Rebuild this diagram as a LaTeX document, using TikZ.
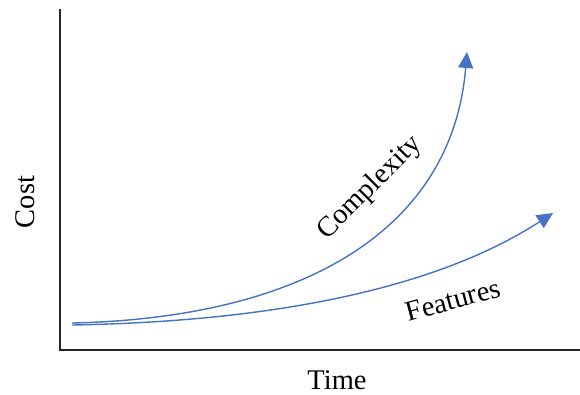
\documentclass[tikz,border=0pt]{standalone}
\usepackage{fontspec}
\setmainfont{Liberation Serif}
\usetikzlibrary{arrows.meta}

\definecolor{curveblue}{HTML}{4472C4}
\tikzset{
  growth/.style={curveblue, line width=1.4pt, -{Triangle[width=15pt,length=16pt]}},
  lbl/.style={font=\fontsize{28.5}{32}\selectfont, inner sep=0pt}
}

\begin{document}
\begin{tikzpicture}[x=1pt, y=-1pt]

\useasboundingbox (0,0) rectangle (580,394);

% axes
\coordinate (ytop) at (60,9);
\coordinate (origin) at (60,350);
\coordinate (xend) at (580,350);
\draw[line width=2pt, black!85] (ytop)--(origin)--(xend);

\node[lbl, rotate=90] (cost) at (25,202) {Cost};
\node[lbl] (time) at (337,380) {Time};

% curves
\coordinate (cstart) at (72,323);
\coordinate (ctip) at (467,52);
\draw[growth] (cstart) .. controls (300,318) and (452,232) .. (ctip);

\coordinate (fstart) at (72,325);
\coordinate (ftip) at (553,213);
\draw[growth] (fstart) .. controls (300,321) and (450,280) .. (ftip);

\node[lbl, rotate=45] (complexity) at (370,188) {Complexity};
\node[lbl, rotate=15] (features) at (453,300) {Features};

\end{tikzpicture}
\end{document}
